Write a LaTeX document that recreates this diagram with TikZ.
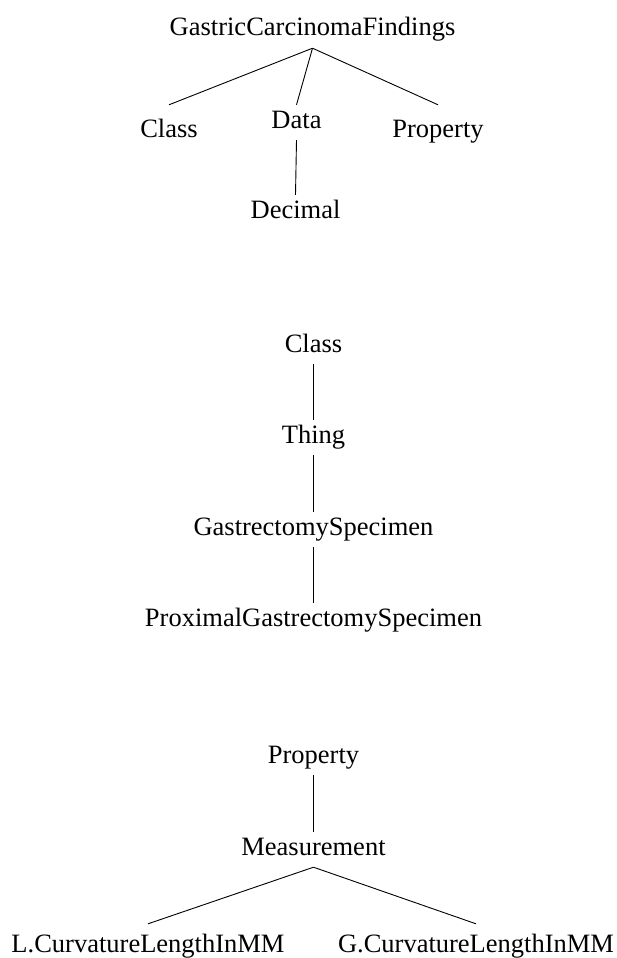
\documentclass[tikz,border=0pt]{standalone}
\usepackage{fontspec}
\setmainfont{Liberation Serif}
\usepackage{tikz}

\begin{document}
\begin{tikzpicture}[x=1pt, y=-1pt,
  word/.style={anchor=base, inner xsep=0pt, inner ysep=6pt, text height=17pt,
               text depth=6pt, font=\fontsize{26.5}{30}\selectfont},
  leaf/.style={word, text height=26pt},
  edge/.style={draw, line width=0.9pt}]
  \useasboundingbox (0,0) rectangle (616,958);
  % Top tree
  \node[word] (root) at (312.5,36) {GastricCarcinomaFindings};
  \node[leaf] (cls1) at (169,137) {Class};
  \node[word] (data) at (296.5,128) {Data};
  \node[leaf] (prop1) at (438,137) {Property};
  \node[word] (dec) at (295.5,218) {Decimal};
  \draw[edge] (root.south) -- (cls1.north);
  \draw[edge] (root.south) -- (data.north);
  \draw[edge] (root.south) -- (prop1.north);
  \draw[edge] (data.south) -- (dec.north);
  % Middle tree
  \node[word] (cls2) at (313.5,352) {Class};
  \node[word] (thing) at (313.5,443) {Thing};
  \node[word] (gspec) at (313.5,535) {GastrectomySpecimen};
  \node[word] (pgspec) at (313.5,626) {ProximalGastrectomySpecimen};
  \draw[edge] (cls2.south) -- (thing.north);
  \draw[edge] (thing.south) -- (gspec.north);
  \draw[edge] (gspec.south) -- (pgspec.north);
  % Bottom tree
  \node[word] (prop2) at (313.5,763) {Property};
  \node[word] (meas) at (313.5,855) {Measurement};
  \node[leaf, text height=22pt] (lcurv) at (148,952) {L.CurvatureLengthInMM};
  \node[leaf, text height=22pt] (gcurv) at (476,952) {G.CurvatureLengthInMM};
  \draw[edge] (prop2.south) -- (meas.north);
  \draw[edge] (meas.south) -- (lcurv.north);
  \draw[edge] (meas.south) -- (gcurv.north);
\end{tikzpicture}
\end{document}
